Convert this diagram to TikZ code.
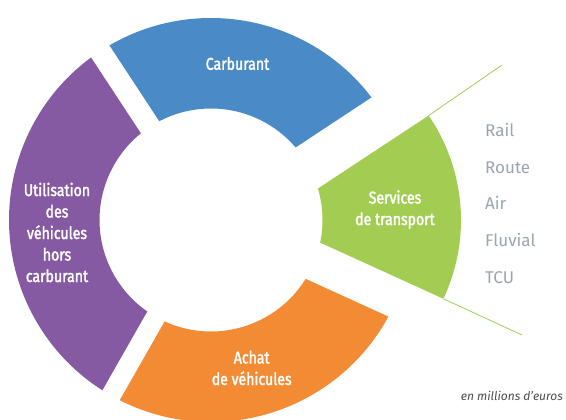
\documentclass[tikz,border=0pt]{standalone}
\usepackage{fontspec}
\setmainfont{Fira Sans}
\newfontfamily\condfont{Fira Sans}[FakeStretch=0.83,FakeBold=2]
\usetikzlibrary{calc}
\definecolor{cblue}{HTML}{4A8BC7}
\definecolor{cpurple}{HTML}{8659A3}
\definecolor{corange}{HTML}{F28B33}
\definecolor{cgreen}{HTML}{A2CD52}
\definecolor{cgrey}{HTML}{9BA5AE}
\definecolor{cdark}{HTML}{4D4D4D}
\begin{document}
\begin{tikzpicture}[x=1pt,y=1pt,
  seglab/.style={text=white,font=\condfont\fontsize{17}{21.5}\selectfont,align=center,inner sep=0pt},
  sublab/.style={text=cgrey,font=\fontsize{17}{20}\selectfont,anchor=base west,inner sep=0pt},
  noteline/.style={cgreen,line width=0.8pt}]
\useasboundingbox (0,0) rectangle (566,-420);
\coordinate (C) at (211,-220);
\coordinate (G) at (276,-220);
% Carburant
\fill[cblue] ($(C)+(37.37:202pt)$) arc[start angle=37.37, end angle=120.18, radius=202pt]
  -- ($(C)+(117.64:111.5pt)$) arc[start angle=117.64, end angle=40.6, radius=111.5pt] -- cycle;
% Utilisation
\fill[cpurple] ($(C)+(126.42:202pt)$) arc[start angle=126.42, end angle=237.46, radius=202pt]
  -- ($(C)+(235.15:111.5pt)$) arc[start angle=235.15, end angle=128.96, radius=111.5pt] -- cycle;
% Achat
\fill[corange] ($(C)+(243.14:202pt)$) arc[start angle=243.14, end angle=331.44, radius=202pt]
  -- ($(C)+(328.13:111.5pt)$) arc[start angle=328.13, end angle=245.45, radius=111.5pt] -- cycle;
% Services
\coordinate (gt) at ($(G)+(34.38:185pt)$);
\coordinate (gb) at ($(G)+(-25.2:185pt)$);
\fill[cgreen] (gt) arc[start angle=34.38, end angle=-25.2, radius=185pt]
  -- ($(C)+(-11.7:111.5pt)$) arc[start angle=-11.7, end angle=16.4, radius=111.5pt] -- cycle;
\coordinate (lt) at (502,-65);
\coordinate (lb) at (522,-335);
\draw[noteline] (gt) -- (lt);
\draw[noteline] (gb) -- (lb);
% labels
\node[seglab] (tcarb) at (237.5,-63.5) {Carburant};
\node[seglab] (tutil) at (57,-232.5) {Utilisation\\des\\véhicules\\hors\\carburant};
\node[seglab] (tachat) at (251.7,-368) {Achat\\de véhicules};
\node[seglab] (tserv) at (395,-209.5) {Services\\de transport};
\node[sublab] (rail) at (485,-136.7) {Rail};
\node[sublab] (route) at (485,-173.35) {Route};
\node[sublab] (air) at (485,-210) {Air};
\node[sublab] (fluv) at (485,-246.65) {Fluvial};
\node[sublab] (tcu) at (485,-283.3) {TCU};
\node[text=cdark,font=\itshape\fontsize{12}{14}\selectfont,anchor=base east,inner sep=0pt] (unit) at (563,-400) {en millions d’euros};
\end{tikzpicture}
\end{document}
